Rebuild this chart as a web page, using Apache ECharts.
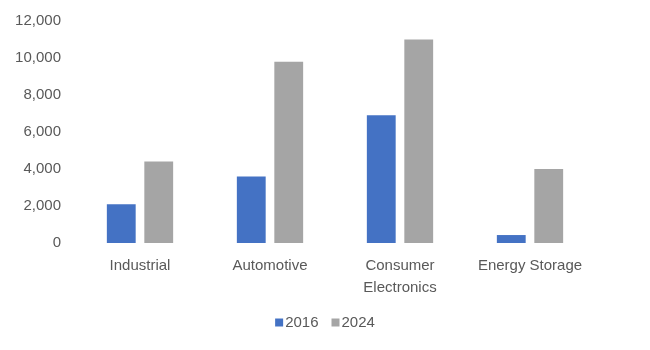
<!DOCTYPE html>
<html><head><meta charset="utf-8">
<script src="https://cdn.jsdelivr.net/npm/echarts@6/dist/echarts.min.js"></script>
<style>html,body{margin:0;padding:0;background:#fff}#c{width:650px;height:350px}</style>
</head><body><div id="c"></div>
<script>
const categories = ['Industrial', 'Automotive', 'Consumer\nElectronics', 'Energy Storage'];
const seriesNames = ['2016', '2024'];
const values2016 = [2100, 3600, 6900, 430];
const values2024 = [4400, 9800, 11000, 4000];
const colors = ['#4472C4', '#A5A5A5'];

const chart = echarts.init(document.getElementById('c'));
const font = 'Liberation Sans, Arial, sans-serif';
chart.setOption({
  animation: false,
  backgroundColor: '#fff',
  grid: { left: 75, right: 55, top: 21, bottom: 107 },
  legend: {
    data: seriesNames, bottom: 15, left: 'center',
    itemWidth: 8, itemHeight: 8, itemGap: 13,
    icon: 'rect',
    textStyle: { color: '#595959', fontSize: 15, fontFamily: font, padding: [0, 0, 0, -3] }
  },
  xAxis: {
    type: 'category', data: categories,
    axisLine: { show: false }, axisTick: { show: false },
    axisLabel: { color: '#595959', fontSize: 15, fontFamily: font, margin: 12, lineHeight: 22, interval: 0 }
  },
  yAxis: {
    type: 'value', min: 0, max: 12000, interval: 2000,
    splitLine: { show: false }, axisLine: { show: false }, axisTick: { show: false },
    axisLabel: { color: '#595959', fontSize: 15, fontFamily: font, margin: 14,
      formatter: v => v.toLocaleString('en-US') }
  },
  series: [
    { name: seriesNames[0], type: 'bar', data: values2016, itemStyle: { color: colors[0] }, barGap: '30%', barCategoryGap: '49%' },
    { name: seriesNames[1], type: 'bar', data: values2024, itemStyle: { color: colors[1] }, barGap: '30%', barCategoryGap: '49%' }
  ]
});
</script></body></html>
